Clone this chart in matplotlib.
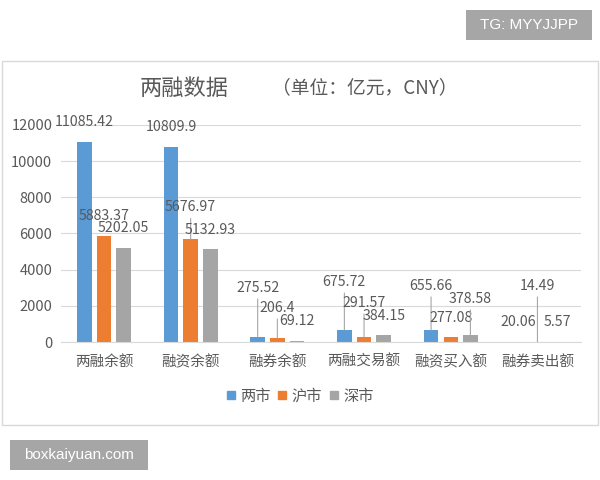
import matplotlib
matplotlib.use('Agg')
import matplotlib.pyplot as plt
import numpy as np
from matplotlib.patches import Rectangle
from matplotlib.lines import Line2D

plt.rcParams['font.family'] = ['Noto Sans CJK SC', 'DejaVu Sans']

categories = ['两融余额', '融资余额', '融券余额', '两融交易额', '融资买入额', '融券卖出额']
series_names = ['两市', '沪市', '深市']
liangshi = [11085.42, 10809.9, 275.52, 675.72, 655.66, 20.06]
hushi = [5883.37, 5676.97, 206.4, 291.57, 277.08, 14.49]
shenshi = [5202.05, 5132.93, 69.12, 384.15, 378.58, 5.57]
yticks = [0, 2000, 4000, 6000, 8000, 10000, 12000]

# label heights for labels moved away from their bars (None = default placement)
liangshi_label_y = [None, None, 3000, 3330, 3110, None]
hushi_label_y = [None, 7450, 1890, 2170, None, 3110]
shenshi_label_y = [None, None, None, None, 2390, None]

colors = ['#5B9BD5', '#ED7D31', '#A5A5A5']
text_color = '#595959'
grid_color = '#d9d9d9'

fig = plt.figure(figsize=(6, 4.8), dpi=100)
fig.patch.set_facecolor('white')
ax = fig.add_axes([0.101, 0.2875, 0.867, 0.4521])

x = np.arange(len(categories))
width = 0.167
step = 0.227
all_series = [liangshi, hushi, shenshi]
all_label_y = [liangshi_label_y, hushi_label_y, shenshi_label_y]

for k, (vals, label_y) in enumerate(zip(all_series, all_label_y)):
    xs = x + (k - 1) * step
    ax.bar(xs, vals, width, color=colors[k], zorder=2)
    for xi, v, ly in zip(xs, vals, label_y):
        if ly is None:
            ax.annotate(str(v), xy=(xi, v), xytext=(0, 14), textcoords='offset points',
                        ha='center', va='center', fontsize=10.2, color=text_color, zorder=4)
        else:
            ax.annotate(str(v), xy=(xi, v), xytext=(xi, ly), textcoords='data',
                        ha='center', va='center', fontsize=10.2, color=text_color, zorder=4,
                        arrowprops=dict(arrowstyle='-', color='#a6a6a6', lw=0.8,
                                        shrinkA=1, shrinkB=0))

ax.set_xlim(-0.5, len(categories) - 0.5)
ax.set_ylim(0, 12000)
ax.set_yticks(yticks)
ax.set_xticks(x)
ax.set_xticklabels(categories, fontsize=10.5, color=text_color)
ax.tick_params(axis='y', length=0, labelsize=10.5, labelcolor=text_color, pad=6)
ax.tick_params(axis='x', length=0, pad=9)
ax.grid(axis='y', color=grid_color, lw=0.8, zorder=0)
ax.set_axisbelow(True)
for s in ['top', 'right', 'left']:
    ax.spines[s].set_visible(False)
ax.spines['bottom'].set_color(grid_color)
ax.spines['bottom'].set_linewidth(0.8)

handles = [Line2D([0], [0], marker='s', linestyle='none', markersize=6,
                  markerfacecolor=c, markeredgecolor=c) for c in colors]
fig.legend(handles, series_names, loc='center', bbox_to_anchor=(0.5, 0.175), ncol=3,
           frameon=False, handlelength=0.6, handletextpad=0.3, columnspacing=0.5,
           fontsize=11, labelcolor=text_color)

fig.text(140 / 600, 0.8167, '两融数据', ha='left', va='center', fontsize=16, color=text_color)
fig.text(272 / 600, 0.8167, '（单位：亿元，CNY）', ha='left', va='center', fontsize=13.5,
         color=text_color)

# chart frame
fig.add_artist(Rectangle((2 / 600, 55 / 480), 596 / 600, 364 / 480, transform=fig.transFigure,
                         fill=False, edgecolor=grid_color, lw=1))

# watermark boxes
fig.add_artist(Rectangle((466 / 600, 440 / 480), 126 / 600, 30 / 480, transform=fig.transFigure,
                         facecolor='#a6a6a6', edgecolor='none'))
fig.text(529 / 600, 455 / 480, 'TG: MYYJJPP', ha='center', va='center', color='white',
         fontsize=11, family=['Liberation Sans', 'DejaVu Sans'])
fig.add_artist(Rectangle((10 / 600, 10 / 480), 138 / 600, 30 / 480, transform=fig.transFigure,
                         facecolor='#a6a6a6', edgecolor='none'))
fig.text(79 / 600, 25 / 480, 'boxkaiyuan.com', ha='center', va='center', color='white',
         fontsize=11, family=['Liberation Sans', 'DejaVu Sans'])

fig.savefig('out.png', dpi=100)
